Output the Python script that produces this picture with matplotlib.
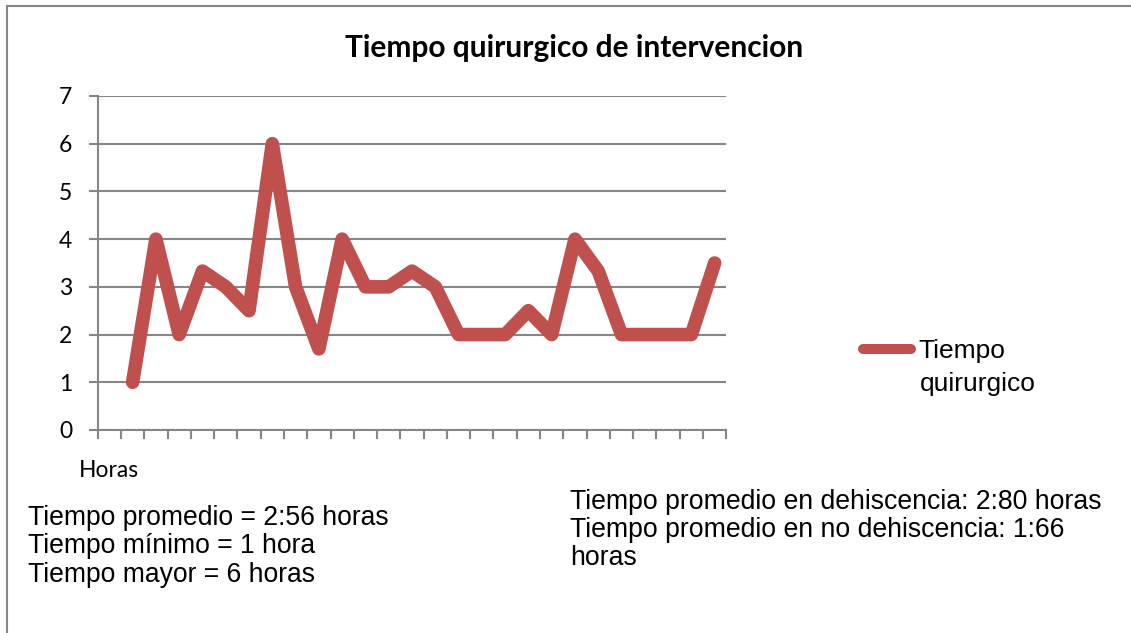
import matplotlib
matplotlib.use("Agg")
import matplotlib.pyplot as plt
from matplotlib.patches import Rectangle
from matplotlib.lines import Line2D

W, H = 1131, 633
DPI = 100

title = "Tiempo quirurgico de intervencion"
series_name = "Tiempo quirurgico"
category_labels = ["Horas"] + [""] * 26
values = [None, 1, 4, 2, 3.33, 3, 2.5, 6, 3, 1.7, 4, 3, 3, 3.33, 3, 2, 2, 2,
          2.5, 2, 4, 3.33, 2, 2, 2, 2, 3.5]
y_ticks = [0, 1, 2, 3, 4, 5, 6, 7]
notes_left = ["Tiempo promedio = 2:56 horas", "Tiempo mínimo = 1 hora",
              "Tiempo mayor = 6 horas"]
notes_right = ["Tiempo promedio en dehiscencia: 2:80 horas",
               "Tiempo promedio en no dehiscencia: 1:66", "horas"]

RED = "#C0504D"
GRID = "#868686"

def fx(px):
    return px / W

def fy(py):
    return 1 - py / H

fig = plt.figure(figsize=(W / DPI, H / DPI), dpi=DPI)
fig.patch.set_facecolor("white")

# outer chart border (left & top visible)
fig.patches.append(Rectangle((fx(7), fy(700)), fx(1200), fy(6) - fy(700),
                             transform=fig.transFigure, fill=False,
                             edgecolor=GRID, linewidth=1.5))

left, right, top, bottom = 97.7, 726.3, 96, 430
ax = fig.add_axes([fx(left), fy(bottom), fx(right - left), fy(top) - fy(bottom)])

n = len(category_labels)
xs = [i + 0.5 for i in range(n)]
px = [x for x, v in zip(xs, values) if v is not None]
pv = [v for v in values if v is not None]
ax.plot(px, pv, color=RED, linewidth=9.8, solid_capstyle="round",
        solid_joinstyle="round", zorder=3, clip_on=False)

ax.set_xlim(0, n)
ax.set_ylim(0, 7)
ax.set_yticks(y_ticks)
ax.set_yticklabels([str(t) for t in y_ticks], fontsize=16.5, fontfamily="Lato")
ax.set_xticks(range(n + 1))
ax.set_xticklabels([])
ax.set_xticks(xs, minor=True)
ax.set_xticklabels(category_labels, minor=True, fontsize=16.5, fontfamily="Lato")
ax.tick_params(axis="x", which="minor", length=0, pad=21.5)
ax.tick_params(axis="x", which="major", length=6.5, width=1.5, color=GRID, direction="out")
ax.tick_params(axis="y", length=6.5, width=1.5, color=GRID, direction="out", pad=12)

ax.grid(axis="y", color=GRID, linewidth=1.5)
ax.set_axisbelow(True)
for s in ["top", "right"]:
    ax.spines[s].set_visible(False)
for s in ["left", "bottom"]:
    ax.spines[s].set_color(GRID)
    ax.spines[s].set_linewidth(1.5)

fig.text(fx(574.5), fy(57), title, ha="center", va="baseline", fontsize=21.5,
         fontweight="bold", fontfamily="Lato")

# legend
handle = Line2D([], [], color=RED, linewidth=7.2, solid_capstyle="round")
leg = fig.legend([handle], [series_name.split(" ")[0]], loc="center left",
                 bbox_to_anchor=(fx(863), fy(351)), frameon=False,
                 prop={"family": "Liberation Sans", "size": 19},
                 handlelength=1.82, handletextpad=0.27, borderpad=0, borderaxespad=0)
fig.text(fx(920), fy(391), series_name.split(" ")[1], ha="left", va="baseline",
         fontsize=19, fontfamily="Liberation Sans")

for i, line in enumerate(notes_left):
    fig.text(fx(28), fy(525 + 28.35 * i), line, ha="left", va="baseline",
             fontsize=19.1, fontfamily="Liberation Sans")
for i, line in enumerate(notes_right):
    fig.text(fx(570.5), fy(509 + 28 * i), line, ha="left", va="baseline",
             fontsize=19.2, fontfamily="Liberation Sans")

fig.savefig("out.png", dpi=DPI)
